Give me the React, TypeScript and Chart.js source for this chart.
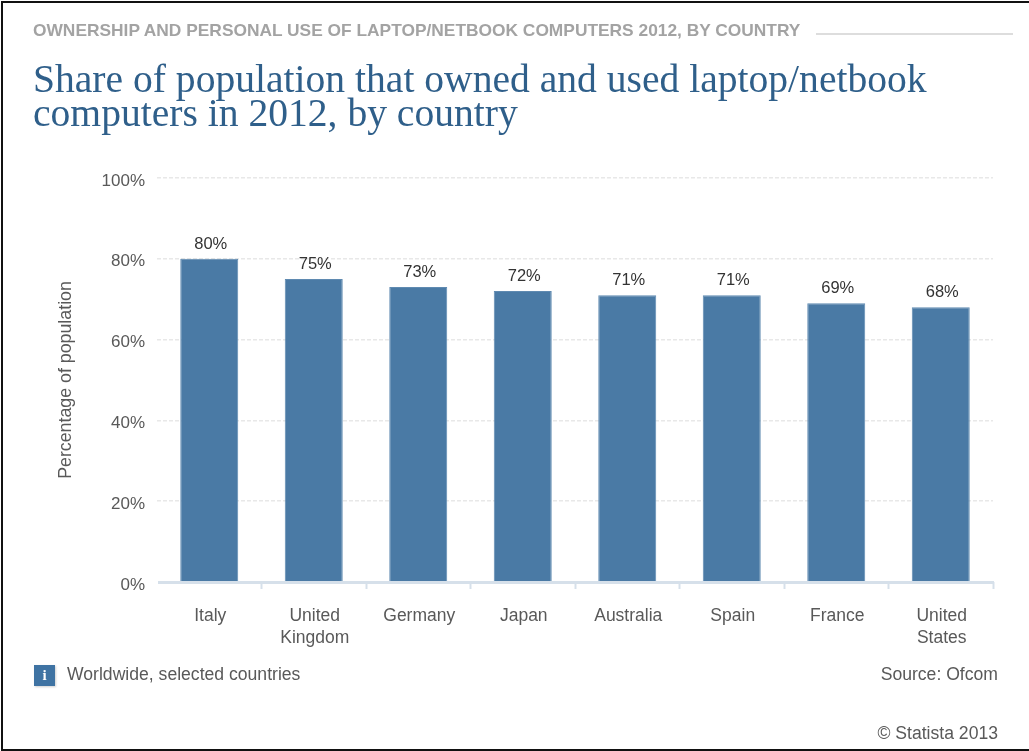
import React, { useEffect, useRef } from "react";
import { Chart, registerables } from "chart.js";

Chart.register(...registerables);

const countries = [
  ["Italy"],
  ["United", "Kingdom"],
  ["Germany"],
  ["Japan"],
  ["Australia"],
  ["Spain"],
  ["France"],
  ["United", "States"],
];
const ownershipShare = [80, 75, 73, 72, 71, 71, 69, 68];
const yTickStep = 20;

const sans = '"Liberation Sans", Arial, sans-serif';
const serif = '"Liberation Serif", Georgia, serif';
const barColor = "#4a7aa5";
const barEdge = "#5f8ab1";
const axisColor = "#d6e0ea";
const gridColor = "#e8e8e8";
const labelColor = "#595959";
const noteFont = `17.6px/22px ${sans}`;

// Bottom axis rule and the percentage above every bar.
const barDecorations = {
  id: "barDecorations",
  afterDatasetsDraw(chart: any) {
    const { ctx, scales } = chart;
    const y0 = scales.y.getPixelForValue(0);
    ctx.save();
    ctx.strokeStyle = axisColor;
    ctx.lineWidth = 3;
    ctx.beginPath();
    ctx.moveTo(scales.x.left + 1, y0 + 0.5);
    ctx.lineTo(scales.x.right + 1, y0 + 0.5);
    ctx.stroke();

    ctx.fillStyle = "#333333";
    ctx.font = `16.5px ${sans}`;
    ctx.textAlign = "center";
    ctx.textBaseline = "alphabetic";
    chart.getDatasetMeta(0).data.forEach((bar: any, i: number) => {
      ctx.fillText(`${ownershipShare[i]}%`, bar.x + 1.5, bar.y - 10);
    });
    ctx.restore();
  },
};

const place = (left: number, top: number): React.CSSProperties => ({
  position: "absolute",
  left,
  top,
  whiteSpace: "nowrap",
});

export default function App() {
  const canvasRef = useRef<HTMLCanvasElement>(null);

  useEffect(() => {
    const chart = new Chart(canvasRef.current!, {
      type: "bar",
      data: {
        labels: countries,
        datasets: [
          {
            data: ownershipShare,
            backgroundColor: barColor,
            borderColor: barEdge,
            borderWidth: 1,
            barPercentage: 0.555,
            categoryPercentage: 1,
          },
        ],
      },
      plugins: [barDecorations],
      options: {
        responsive: false,
        animation: false,
        layout: { padding: { left: 55, right: 36, top: 178, bottom: 0 } },
        plugins: {
          legend: { display: false },
          title: { display: false },
          tooltip: { enabled: false },
        },
        scales: {
          x: {
            afterFit: (scale: any) => {
              scale.height = 169;
            },
            border: { display: false },
            grid: {
              drawOnChartArea: false,
              tickLength: 7,
              tickWidth: 2,
              tickColor: (ctx: any) => (ctx.index === 0 ? "transparent" : axisColor),
            },
            ticks: {
              color: labelColor,
              font: { family: sans, size: 17.5, lineHeight: 1.27 },
              padding: 16,
              labelOffset: 1,
              autoSkip: false,
              maxRotation: 0,
            },
          },
          y: {
            min: 0,
            max: 100,
            afterFit: (scale: any) => {
              scale.width = 102;
            },
            border: { display: false, dash: [4, 2] },
            grid: {
              color: (ctx: any) => (ctx.tick.value === 0 ? "transparent" : gridColor),
              lineWidth: 1.5,
              drawTicks: false,
            },
            ticks: {
              stepSize: yTickStep,
              color: labelColor,
              font: { family: sans, size: 17 },
              padding: 12,
              labelOffset: 3,
              callback: (v: any) => `${v}%`,
            },
            title: {
              display: true,
              text: "Percentage of population",
              color: labelColor,
              font: { family: sans, size: 17.8 },
              padding: 0,
            },
          },
        },
      },
    } as any);
    return () => chart.destroy();
  }, []);

  return (
    <div
      style={{
        position: "fixed",
        left: 0,
        top: 0,
        width: 1029,
        height: 751,
        overflow: "hidden",
        background: "#ffffff",
        fontFamily: sans,
      }}
    >
      <canvas
        ref={canvasRef}
        width={1029}
        height={751}
        style={{ position: "absolute", left: 0, top: 0, display: "block" }}
      />
      <div
        style={{
          position: "absolute",
          left: 1,
          top: 1,
          width: 1060,
          height: 746,
          border: "2px solid #111111",
        }}
      />
      <div
        style={{
          ...place(33, 20),
          font: `bold 17.35px/20px ${sans}`,
          color: "#a3a3a3",
        }}
      >
        OWNERSHIP AND PERSONAL USE OF LAPTOP/NETBOOK COMPUTERS 2012, BY COUNTRY
      </div>
      <div
        style={{
          position: "absolute",
          left: 816,
          top: 33,
          width: 197,
          height: 2,
          background: "#dddddd",
        }}
      />
      <div
        style={{
          ...place(33, 62),
          font: `39.6px/34px ${serif}`,
          color: "#2f5f8a",
        }}
      >
        Share of population that owned and used laptop/netbook
        <br />
        computers in 2012, by country
      </div>
      <div
        style={{
          position: "absolute",
          left: 34,
          top: 665,
          width: 21,
          height: 21,
          background: "#3f73a3",
          boxShadow: "1px 1px 2px #d0d0d0",
          color: "#ffffff",
          font: `bold 15px/21px ${serif}`,
          textAlign: "center",
        }}
      >
        i
      </div>
      <div style={{ ...place(67, 663), font: noteFont, color: labelColor }}>
        Worldwide, selected countries
      </div>
      <div
        style={{
          position: "absolute",
          right: 31,
          top: 663,
          font: noteFont,
          color: labelColor,
          whiteSpace: "nowrap",
        }}
      >
        Source: Ofcom
      </div>
      <div
        style={{
          position: "absolute",
          right: 31,
          top: 722,
          font: noteFont,
          color: labelColor,
          whiteSpace: "nowrap",
        }}
      >
        © Statista 2013
      </div>
    </div>
  );
}
